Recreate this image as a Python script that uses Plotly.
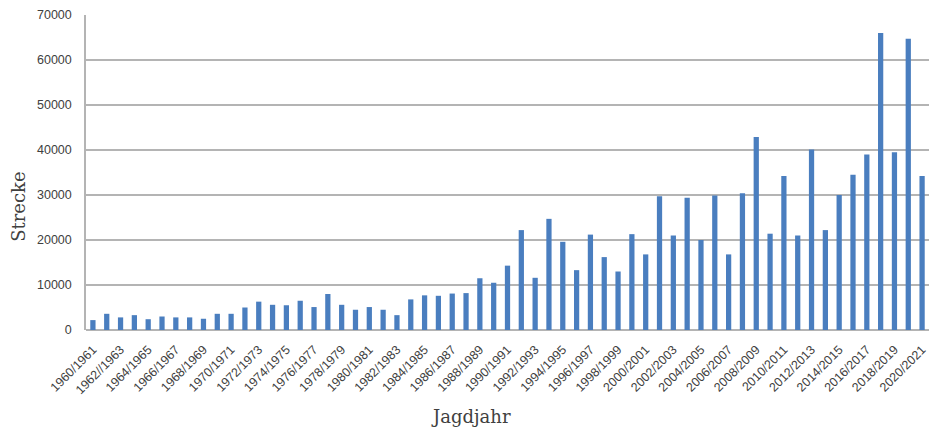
import plotly.graph_objects as go

seasons = [f"{y}/{y+1}" for y in range(1960, 2021)]
tick_labels = [s if s != "1962/1963" else "1962//1963" for s in seasons]

strecke = [
    2200, 3600, 2800, 3300, 2400, 3000, 2800, 2800, 2500, 3600,
    3600, 5000, 6300, 5600, 5500, 6500, 5100, 8000, 5600, 4500,
    5100, 4500, 3300, 6800, 7700, 7600, 8100, 8200, 11500, 10500,
    14300, 22200, 11600, 24700, 19600, 13300, 21200, 16200, 13000, 21300,
    16800, 29700, 21000, 29400, 20000, 29900, 16800, 30400, 42900, 21400,
    34200, 21000, 40100, 22200, 30000, 34500, 39000, 66000, 39500, 64700,
    34200,
]

y_ticks = [0, 10000, 20000, 30000, 40000, 50000, 60000, 70000]

serif = "DejaVu Serif, Liberation Serif, serif"

fig = go.Figure(go.Bar(
    x=seasons, y=strecke,
    marker=dict(color="#4A7EBF", line=dict(width=0)),
))

fig.update_layout(
    width=933, height=430,
    margin=dict(l=86, r=4, t=15, b=100, autoexpand=False),
    plot_bgcolor="white", paper_bgcolor="white",
    bargap=0.62,
    showlegend=False,
    font=dict(family="Liberation Sans, Arial, sans-serif", color="#404040", size=12),
    annotations=[
        dict(text="Jagdjahr", xref="paper", yref="paper", x=0.457, y=-0.275,
             xanchor="center", yanchor="middle", showarrow=False,
             font=dict(family=serif, size=18, color="#404040")),
        dict(text="Strecke", xref="paper", yref="paper", x=-0.081, y=0.39,
             xanchor="center", yanchor="middle", showarrow=False, textangle=-90,
             font=dict(family=serif, size=18, color="#404040")),
    ],
)

fig.update_xaxes(
    type="category",
    tickmode="array",
    tickvals=seasons[::2],
    ticktext=tick_labels[::2],
    tickangle=-45,
    tickfont=dict(size=12.5, color="#404040"),
    showgrid=False,
    showline=False,
    ticks="",
    ticklabelstandoff=9,
    automargin=False,
    range=[-0.5, 60.5],
)

fig.update_yaxes(
    range=[0, 70000],
    tickmode="array",
    tickvals=y_ticks,
    ticktext=[str(v) for v in y_ticks],
    tickfont=dict(size=12.5, color="#404040"),
    showgrid=True, gridcolor="#B4B4B4", gridwidth=1.5,
    zeroline=True, zerolinecolor="#B4B4B4", zerolinewidth=1.5,
    showline=True, linecolor="#B4B4B4", linewidth=1.5,
    ticks="", ticklabelstandoff=10,
    automargin=False,
)

fig.write_html("out.html", config={"displayModeBar": False},
               post_script="document.body.style.margin='0';")
